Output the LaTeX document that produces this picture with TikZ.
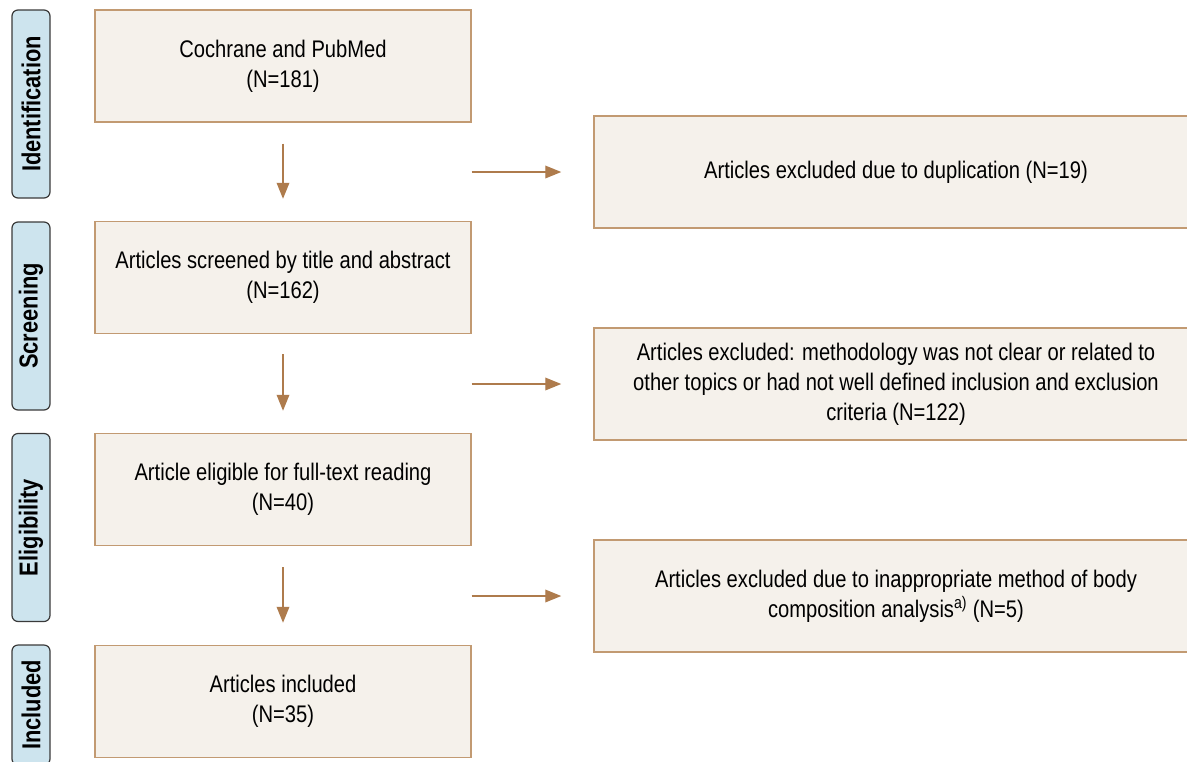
\documentclass[tikz,border=0pt]{standalone}
\usepackage{fontspec}
\setmainfont{Liberation Sans}[FakeStretch=0.84]
\usetikzlibrary{arrows.meta}
\definecolor{boxfill}{HTML}{F5F1EB}
\definecolor{boxline}{HTML}{C29A72}
\definecolor{arrowcol}{HTML}{AE7B4C}
\definecolor{stagefill}{HTML}{CDE4EE}
\definecolor{stageline}{HTML}{3A3A3A}
\begin{document}
\begin{tikzpicture}[x=0.75pt,y=-0.75pt,
    stage/.style={draw=stageline,fill=stagefill,line width=0.9pt,rounded corners=4.5pt,
        minimum width=141pt,minimum height=28.5pt,inner sep=0pt,rotate=90,
        font=\fontsize{19.5}{22}\selectfont\bfseries},
    box/.style={draw=boxline,fill=boxfill,line width=1.1pt,minimum width=282pt,
        minimum height=84pt,inner sep=0pt,align=center,font=\fontsize{18}{22.5}\selectfont},
    excl/.style={box,minimum width=453pt},
    flow/.style={draw=arrowcol,line width=1pt,-{Triangle[length=12pt,width=9.5pt]}}]
        \useasboundingbox (0,0) rectangle (1187,761);
        \clip (0,0) rectangle (1187,761);

        \node[stage] (identlab) at (31,104) {Identification};
        \node[stage] (screenlab) at (31,316) {Screening};
        \node[stage] (eliglab) at (31,527.5) {Eligibility};
        \node[stage,minimum width=90pt] (incllab) at (31,705) {Included};

        \node[box] (ident) at (283,66) {Cochrane and PubMed\\(N=181)};
        \node[box] (screen) at (283,277.5) {Articles screened by title and abstract\\(N=162)};
        \node[box] (elig) at (283,489.5) {Article eligible for full-text reading\\(N=40)};
        \node[box] (incl) at (283,701.5) {Articles included\\(N=35)};

        \node[excl] (dupl) at (896,172) {Articles excluded due to duplication (N=19)};
        \node[excl] (method) at (896,384) {Articles excluded: methodology was not clear or related to\\other topics or had not well defined inclusion and exclusion\\criteria (N=122)};
        \node[excl] (body) at (896,596) {Articles excluded due to inappropriate method of body\\composition analysis\textsuperscript{a)} (N=5)};

        \draw[flow,shorten <=15.75pt,shorten >=16.5pt] (ident) -- (screen);
        \draw[flow,shorten <=15pt,shorten >=16.5pt] (screen) -- (elig);
        \draw[flow,shorten <=15.75pt,shorten >=16.5pt] (elig) -- (incl);

        \draw[flow,shorten >=24pt] (dupl.west -| ident.east) -- (dupl.west);
        \draw[flow,shorten >=24pt] (method.west -| ident.east) -- (method.west);
        \draw[flow,shorten >=24pt] (body.west -| ident.east) -- (body.west);
\end{tikzpicture}
\end{document}
